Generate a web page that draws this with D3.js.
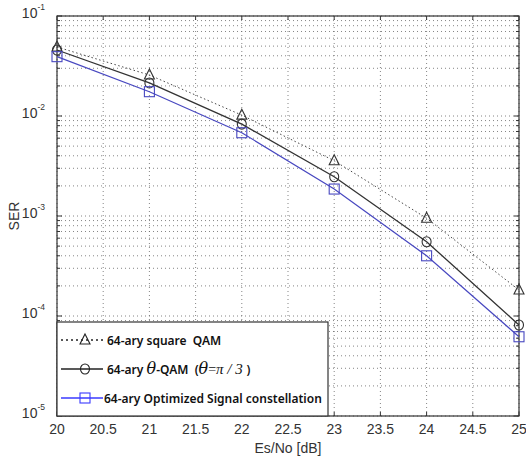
<!DOCTYPE html>
<html>
<head>
<meta charset="utf-8">
<script src="https://cdnjs.cloudflare.com/ajax/libs/d3/7.8.5/d3.min.js"></script>
<style>
  body { margin: 0; background: #fff; }
  text { font-family: "Liberation Sans", Arial, sans-serif; }
</style>
</head>
<body>
<script>
// data
var esno = [20, 21, 22, 23, 24, 25];
var squareQam = [0.049, 0.0257, 0.0102, 0.00357, 0.00095, 0.000182];
var thetaQam = [0.0457, 0.0214, 0.0083, 0.00247, 0.000553, 0.0000813];
var optimized = [0.0392, 0.0175, 0.0068, 0.00186, 0.00040, 0.000062];
var xTicks = [20, 20.5, 21, 21.5, 22, 22.5, 23, 23.5, 24, 24.5, 25];
var yDecades = [-5, -4, -3, -2, -1];

var W = 526, H = 457;
var m = {left: 57, right: 7, top: 16, bottom: 41};

var svg = d3.select("body").append("svg")
  .attr("width", W).attr("height", H);

var x = d3.scaleLinear().domain([20, 25]).range([m.left, W - m.right]);
var y = d3.scaleLog().domain([1e-5, 1e-1]).range([H - m.bottom, m.top]);

var x0 = x(20), x1 = x(25), y0 = y(1e-5), y1 = y(1e-1);

// grid
var minors = [];
yDecades.slice(0, -1).forEach(function (e) {
  for (var k = 1; k <= 9; k++) minors.push(k * Math.pow(10, e));
});
minors.push(1e-1);

var grid = svg.append("g").attr("stroke", "#666").attr("stroke-width", 0.8)
  .attr("stroke-dasharray", "1,3");
grid.selectAll(".gy").data(minors).enter().append("line")
  .attr("x1", x0).attr("x2", x1)
  .attr("y1", function (d) { return y(d); }).attr("y2", function (d) { return y(d); });
grid.selectAll(".gx").data(xTicks).enter().append("line")
  .attr("y1", y0).attr("y2", y1)
  .attr("x1", function (d) { return x(d); }).attr("x2", function (d) { return x(d); });

// ticks (inside, both sides)
var tk = svg.append("g").attr("stroke", "#333").attr("stroke-width", 1);
xTicks.forEach(function (d) {
  tk.append("line").attr("x1", x(d)).attr("x2", x(d)).attr("y1", y0).attr("y2", y0 - 4);
  tk.append("line").attr("x1", x(d)).attr("x2", x(d)).attr("y1", y1).attr("y2", y1 + 4);
});
minors.forEach(function (d) {
  var major = Math.abs(Math.log10(d) - Math.round(Math.log10(d))) < 1e-9;
  var len = major ? 5 : 3;
  tk.append("line").attr("x1", x0).attr("x2", x0 + len).attr("y1", y(d)).attr("y2", y(d));
  tk.append("line").attr("x1", x1).attr("x2", x1 - len).attr("y1", y(d)).attr("y2", y(d));
});

// frame
svg.append("rect").attr("x", x0).attr("y", y1)
  .attr("width", x1 - x0).attr("height", y0 - y1)
  .attr("fill", "none").attr("stroke", "#333").attr("stroke-width", 1.2);

// tick labels
svg.selectAll(".xl").data(xTicks).enter().append("text")
  .attr("x", function (d) { return x(d); }).attr("y", y0 + 18)
  .attr("text-anchor", "middle").attr("font-size", 14).attr("fill", "#333")
  .text(function (d) { return d; });

var yl = svg.selectAll(".yl").data(yDecades).enter().append("text")
  .attr("x", 45).attr("y", function (d) { return y(Math.pow(10, d)) + 2; })
  .attr("text-anchor", "end").attr("font-size", 14).attr("fill", "#333");
yl.append("tspan").text("10");
yl.append("tspan").attr("font-size", 8.5).attr("dy", -8).text(function (d) { return d; });

svg.append("text").attr("x", 288).attr("y", 453).attr("text-anchor", "middle")
  .attr("font-size", 14).attr("fill", "#333").text("Es/No [dB]");
svg.append("text").attr("transform", "translate(19," + y(1e-3) + ") rotate(-90)")
  .attr("text-anchor", "middle").attr("font-size", 14).attr("fill", "#333").text("SER");

// series
var series = [
  {vals: squareQam, color: "#333", dash: "1.5,2.5", width: 0.9, marker: "tri"},
  {vals: thetaQam, color: "#333", dash: null, width: 1.3, marker: "circ"},
  {vals: optimized, color: "#4848c0", dash: null, width: 1.2, marker: "sq"}
];
var line = d3.line().x(function (d) { return x(d[0]); }).y(function (d) { return y(d[1]); });

function marker(g, type, cx, cy, color) {
  if (type === "tri") {
    g.append("path").attr("d", "M" + cx + "," + (cy - 6) + "L" + (cx + 5) + "," + (cy + 4) + "L" + (cx - 5) + "," + (cy + 4) + "Z")
      .attr("fill", "none").attr("stroke", color).attr("stroke-width", 1.1);
  } else if (type === "circ") {
    g.append("ellipse").attr("cx", cx).attr("cy", cy).attr("rx", 4.5).attr("ry", 5)
      .attr("fill", "none").attr("stroke", color).attr("stroke-width", 1.1);
  } else {
    g.append("rect").attr("x", cx - 5).attr("y", cy - 5).attr("width", 10).attr("height", 10)
      .attr("fill", "none").attr("stroke", color).attr("stroke-width", 1.1);
  }
}

series.forEach(function (s) {
  var pts = esno.map(function (e, i) { return [e, s.vals[i]]; });
  svg.append("path").datum(pts).attr("d", line)
    .attr("fill", "none").attr("stroke", s.color).attr("stroke-width", s.width)
    .attr("stroke-dasharray", s.dash);
  var g = svg.append("g");
  pts.forEach(function (p) { marker(g, s.marker, x(p[0]), y(p[1]), s.color); });
});

// legend
var lg = svg.append("g");
lg.append("rect").attr("x", x0).attr("y", 322).attr("width", 271).attr("height", y0 - 322)
  .attr("fill", "#fff").attr("stroke", "#333").attr("stroke-width", 1.2);
var rows = [
  {y: 340, color: "#222", dash: "2,3", marker: "tri"},
  {y: 369, color: "#222", dash: null, marker: "circ"},
  {y: 398, color: "#3a3aff", dash: null, marker: "sq"}
];
rows.forEach(function (r) {
  lg.append("line").attr("x1", x0 + 4).attr("x2", x0 + 46).attr("y1", r.y).attr("y2", r.y)
    .attr("stroke", r.color).attr("stroke-width", 1.4).attr("stroke-dasharray", r.dash);
  marker(lg, r.marker, x0 + 28, r.y, r.color);
});
var lf = "'Noto Sans', 'Open Sans', sans-serif";
lg.append("text").attr("x", x0 + 50).attr("y", 345).attr("font-size", 12).attr("font-weight", 600)
  .style("font-family", lf).attr("fill", "#111").attr("xml:space", "preserve").text("64-ary square  QAM");
var t2 = lg.append("text").attr("x", x0 + 50).attr("y", 374).attr("font-size", 12).attr("font-weight", 600)
  .style("font-family", lf).attr("fill", "#111").attr("xml:space", "preserve");
t2.append("tspan").text("64-ary ");
t2.append("tspan").style("font-family", "'DejaVu Serif', serif").attr("font-style", "italic").attr("font-weight", 400).attr("font-size", 16).text("θ");
t2.append("tspan").text("-QAM  (");
t2.append("tspan").style("font-family", "'DejaVu Serif', serif").attr("font-style", "italic").attr("font-weight", 400).attr("font-size", 16).text("θ");
t2.append("tspan").attr("font-weight", 400).style("font-family", "'Liberation Serif', serif").attr("font-size", 14).text("=");
t2.append("tspan").attr("font-weight", 400).style("font-family", "'Liberation Serif', serif").attr("font-style", "italic").attr("font-size", 15).text("π / 3 ");
t2.append("tspan").text(")");
lg.append("text").attr("x", x0 + 47).attr("y", 403).attr("font-size", 12).attr("font-weight", 600)
  .style("font-family", lf).attr("fill", "#111").text("64-ary Optimized Signal constellation");
</script>
</body>
</html>
